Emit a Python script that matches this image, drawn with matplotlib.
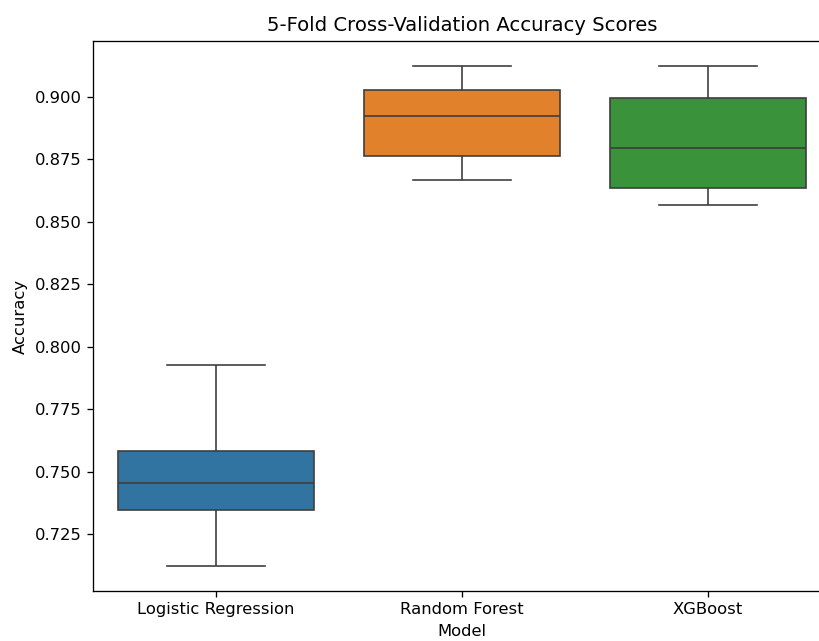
import matplotlib
matplotlib.use("Agg")
import matplotlib.pyplot as plt
import seaborn as sns
import pandas as pd

models = ["Logistic Regression", "Random Forest", "XGBoost"]
lr_scores = [0.7122, 0.7348, 0.7456, 0.7584, 0.7928]
rf_scores = [0.8666, 0.8762, 0.8924, 0.9028, 0.9124]
xgb_scores = [0.8566, 0.8634, 0.8794, 0.8996, 0.9124]

df = pd.DataFrame({
    "Model": [models[0]] * len(lr_scores) + [models[1]] * len(rf_scores) + [models[2]] * len(xgb_scores),
    "Accuracy": lr_scores + rf_scores + xgb_scores,
})

DPI = 118
fig = plt.figure(figsize=(819 / DPI, 641 / DPI), dpi=DPI)
ax = fig.add_axes([93 / 819, 50 / 641, (831 - 93) / 819, 550 / 641])
sns.boxplot(data=df, x="Model", y="Accuracy", hue="Model", ax=ax, legend=False)
ax.set_title("5-Fold Cross-Validation Accuracy Scores", fontsize=12)
fig.savefig("out.png", dpi=DPI)
